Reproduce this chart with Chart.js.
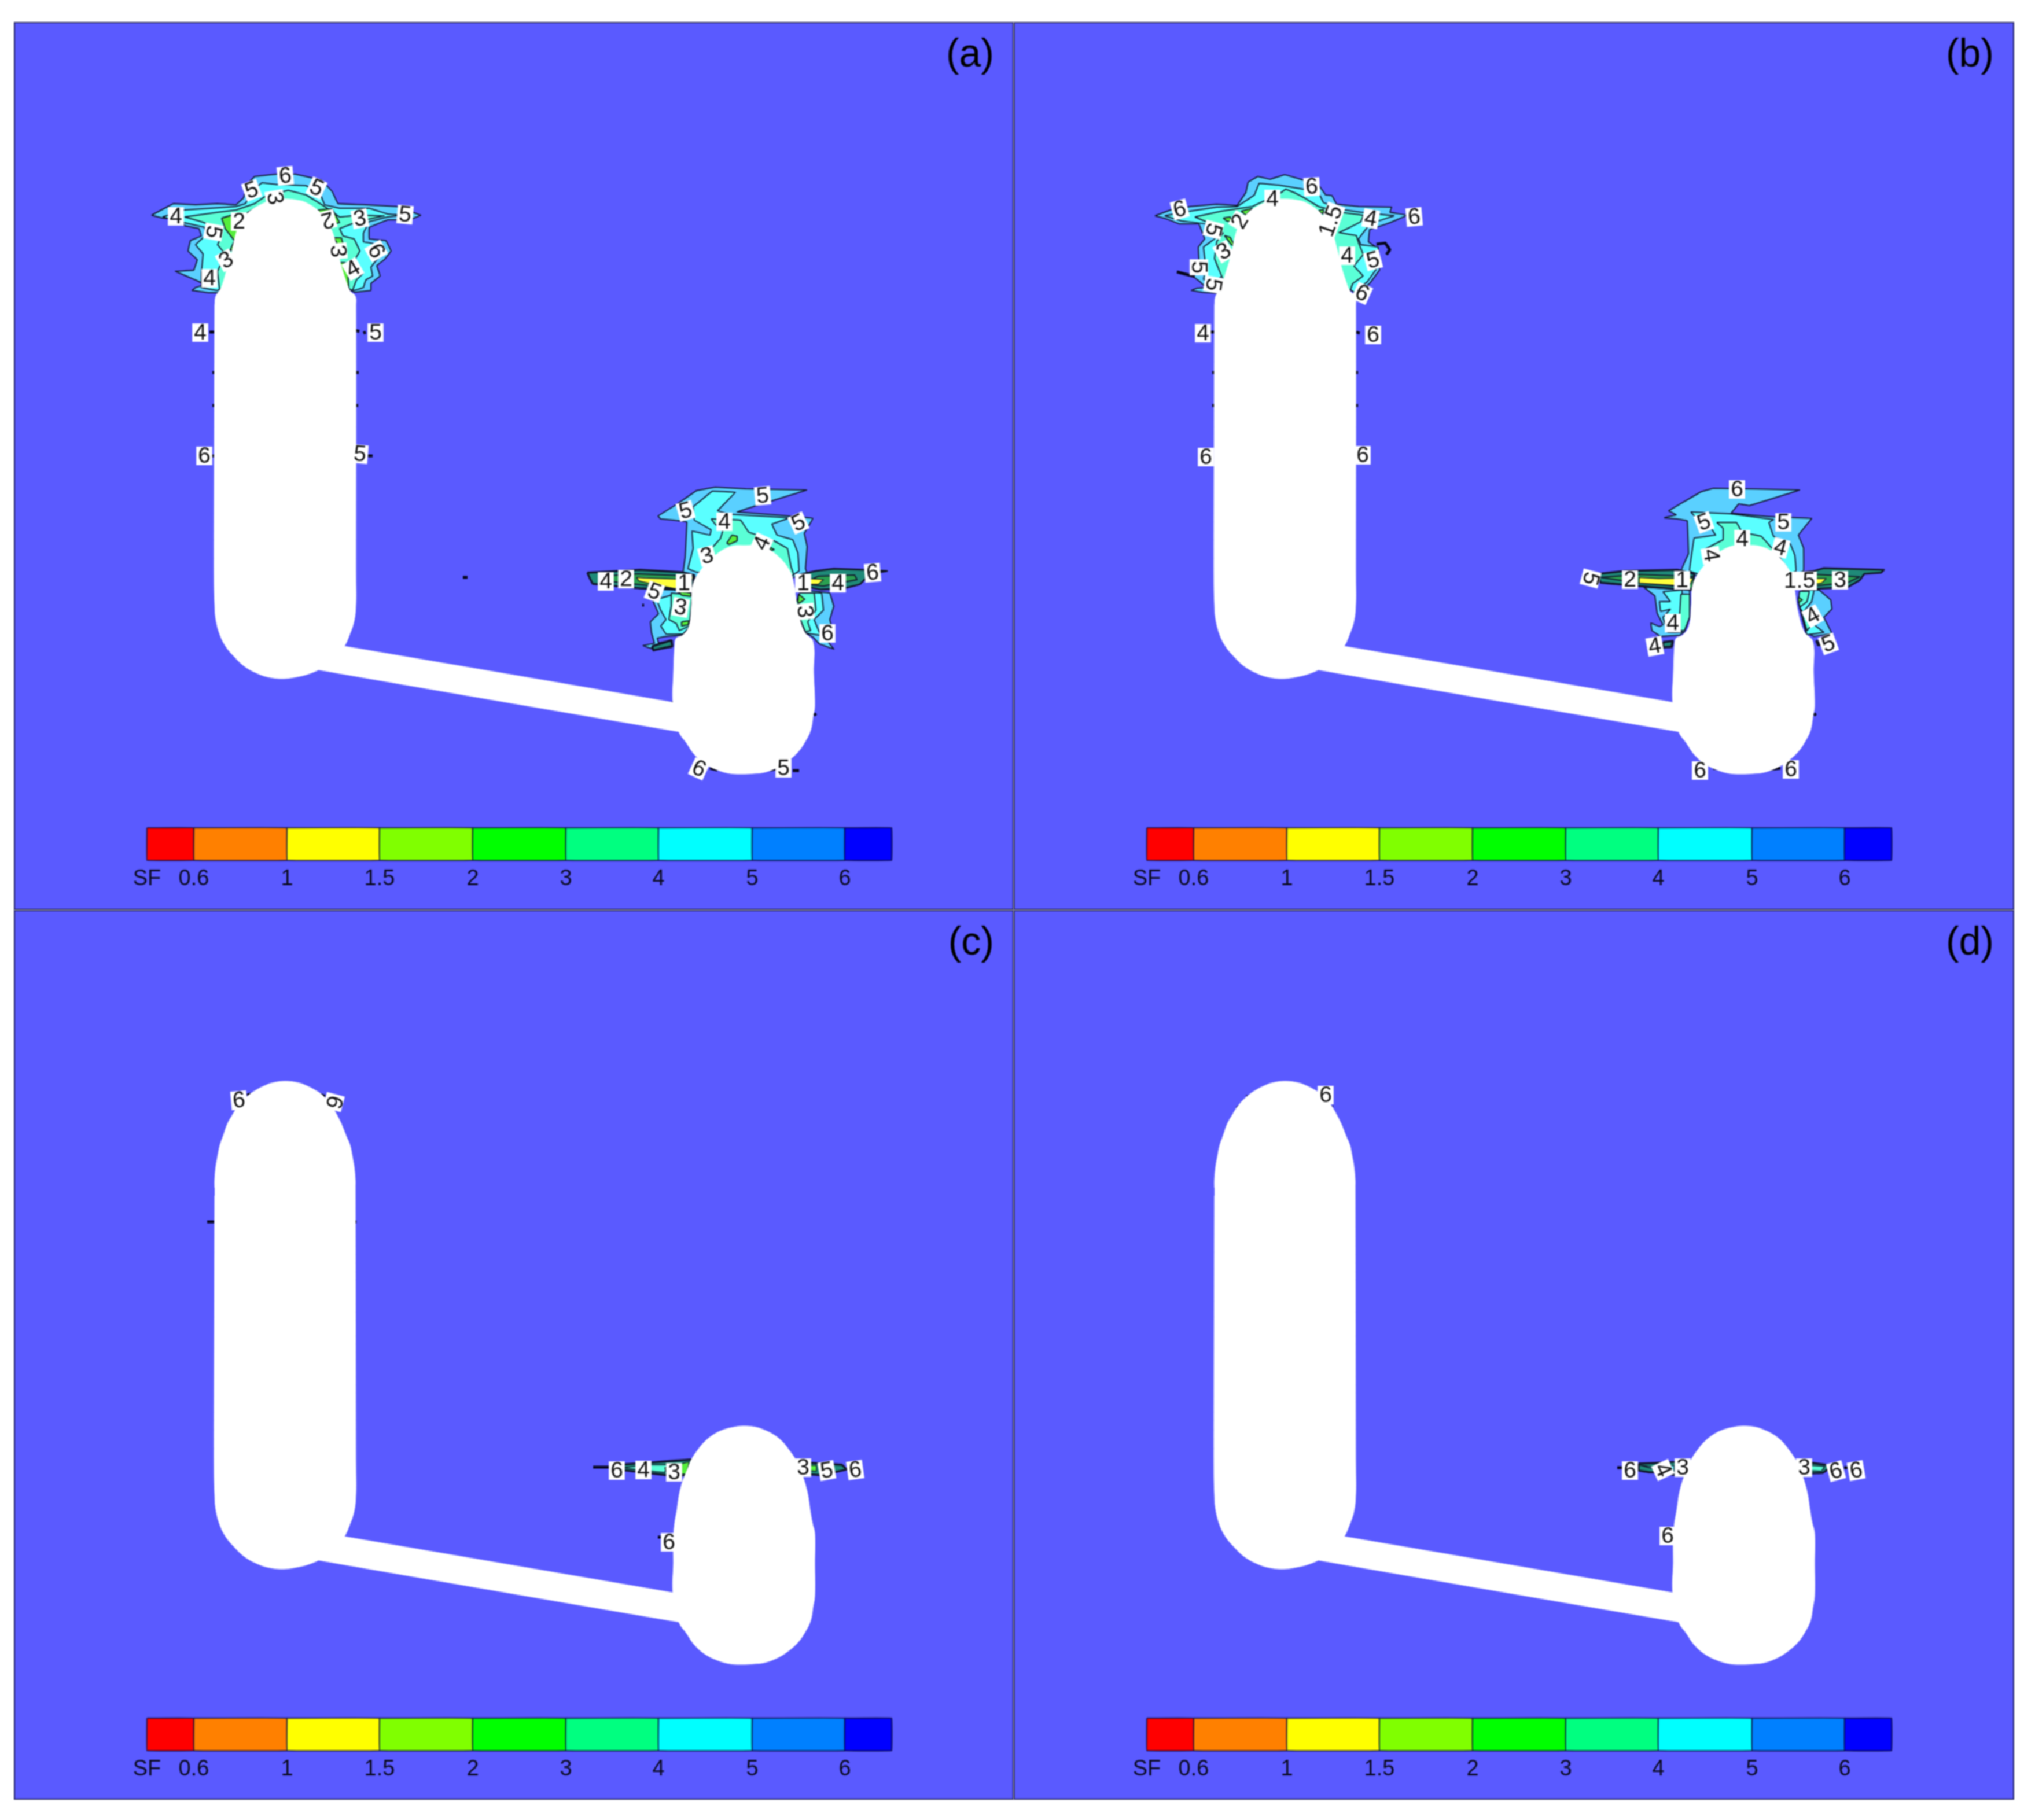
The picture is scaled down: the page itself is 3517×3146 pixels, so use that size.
<!DOCTYPE html>
<html>
<head>
<meta charset="utf-8">
<title>SF contours</title>
<script src="https://cdn.jsdelivr.net/npm/chart.js@4"></script>
<style>
  html, body { margin: 0; background: #fff; }
  body { position: relative; width: 3517px; height: 3146px; overflow: hidden; }
  canvas { position: absolute; background: #5a5aff; filter: blur(0.8px); }
  #panelA { left: 24px; top: 38px; }
  #panelB { left: 1752px; top: 38px; }
  #panelC { left: 24px; top: 1573px; }
  #panelD { left: 1752px; top: 1573px; }
</style>
</head>
<body>
<canvas id="panelA" width="1728" height="1535"></canvas>
<canvas id="panelB" width="1729" height="1535"></canvas>
<canvas id="panelC" width="1728" height="1538"></canvas>
<canvas id="panelD" width="1729" height="1538"></canvas>
<script>
// colour bar
const sfTicks = ['0.6', '1', '1.5', '2', '3', '4', '5', '6'];
const sfEdges = [230, 311, 472, 632, 793, 954, 1114, 1276, 1436, 1517];
const sfColors = ['#ff0000', '#ff8000', '#ffff00', '#80ff00', '#00ff00', '#00ff80', '#00ffff', '#0080ff', '#0000ff'];
const sfBarY = [1393, 1449];

// contour band fills
const SKY = '#5ad0ff', CYAN = '#5affff', MINT = '#5affd6', GREEN = '#55ee3c', YELLOW = '#ffff3c', TEAL = '#1f8a78', DEEP = '#2aa050';

// tanks and link pipe, read in panel units
const bigDomeUpper = [[347,490],[349,474],[358,460],[366,435],[375,405],[386,359],[397,340],[408,327],[428,315],[447,308],[468,306],[489,308],[504,312],[527,327],[540,345],[550,362],[558,390],[565,419],[573,445],[581,465],[590,474],[591,490]];
const bigDomeLower = [[347,476],[347,463],[349,440],[352,423],[356,403],[362,386],[369,366],[378,350],[389,333],[406,316],[421,306],[433,300],[446,295],[469,292],[493,295],[506,300],[518,306],[533,316],[548,333],[558,350],[566,366],[574,386],[581,403],[585,423],[588,440],[590,463],[590,476]];
const bigBase = [[591,962],[591,1005],[588,1035],[579,1062],[571,1079],[552,1103],[530,1118],[509,1127],[489,1132],[466,1135],[443,1133],[423,1127],[399,1114],[379,1095],[366,1079],[356,1059],[349,1032],[347,1005],[346,962],[347,490]];
const smallDomeUpper = [[1140,1125],[1142,1079],[1145,1065],[1156,1060],[1167,1044],[1171,1010],[1174,972],[1189,945],[1212,922],[1238,907],[1261,905],[1292,907],[1319,922],[1341,949],[1348,972],[1355,1018],[1366,1054],[1381,1071],[1382,1125]];
const smallDomeLower = [[1140,1125],[1140,1080],[1142,1056],[1146,1033],[1150,1006],[1156,983],[1164,963],[1171,946],[1183,928],[1194,915],[1209,903],[1225,895],[1244,890],[1261,888],[1282,890],[1297,895],[1313,903],[1328,915],[1340,930],[1351,946],[1359,963],[1366,983],[1372,1006],[1376,1033],[1380,1056],[1384,1073],[1384,1125]];
const smallBase = [[1384,1182],[1381,1201],[1377,1224],[1368,1243],[1355,1262],[1337,1278],[1319,1289],[1297,1297],[1279,1299],[1261,1300],[1238,1299],[1216,1293],[1194,1282],[1176,1266],[1163,1247],[1149,1226],[1139,1176],[1140,1125]];
const pipe = [[500,1067],[1200,1187],[1200,1235],[500,1115],[500,1067]];

// panel (a), big tank
const aTopSky = [[238,334],[266,319],[276,314],[314,316],[352,314],[384,316],[397,304],[403,281],[416,267],[454,263],[486,263],[531,273],[550,293],[560,314],[608,316],[662,319],[703,334],[684,342],[646,342],[614,355],[614,375],[643,378],[652,396],[640,411],[627,421],[633,439],[617,452],[617,464],[588,467],[470,400],[352,468],[336,468],[308,464],[314,459],[330,454],[314,446],[279,431],[311,429],[317,411],[301,396],[305,378],[324,370],[320,357],[295,352],[289,342],[257,339],[238,334]];
const aTopCyan = [[257,337],[295,325],[340,322],[384,319],[400,314],[416,288],[429,278],[454,281],[505,283],[531,301],[537,316],[563,322],[614,322],[646,332],[671,334],[646,337],[614,345],[604,365],[604,380],[633,385],[643,396],[627,411],[617,424],[620,439],[608,446],[604,459],[588,464],[470,400],[352,464],[324,459],[324,434],[327,401],[314,385],[330,370],[330,355],[295,347],[257,337]];
const aTopMint = [[295,337],[352,329],[384,325],[416,314],[435,301],[474,291],[505,299],[537,319],[563,337],[595,334],[640,335],[595,345],[563,357],[569,370],[588,375],[598,396],[588,413],[604,434],[592,446],[585,464],[470,400],[356,464],[352,431],[365,401],[352,385],[359,370],[352,355],[320,344],[295,337]];
const aTopGreen1 = [[359,339],[384,332],[397,355],[387,390],[373,396],[381,378],[365,357],[359,339]];
const aTopGreen2 = [[400,332],[416,322],[423,329],[407,337],[400,332]];
const aTopGreen3 = [[525,325],[550,323],[563,347],[547,350],[525,325]];
const aTopGreen4 = [[553,373],[566,373],[569,385],[560,385],[553,373]];
const aTopGreen5 = [[563,416],[576,416],[579,464],[569,446],[563,416]];

// panel (a), small tank
const aSmallSky = [[1113,854],[1145,834],[1180,810],[1212,804],[1265,807],[1370,809],[1283,836],[1250,847],[1328,853],[1381,858],[1366,884],[1371,907],[1368,945],[1372,956],[1261,972],[1156,956],[1160,926],[1163,864],[1140,861],[1118,859],[1113,854]];
const aSmallCyan = [[1174,838],[1207,811],[1247,813],[1216,845],[1238,851],[1341,857],[1310,868],[1319,887],[1346,895],[1355,918],[1357,949],[1346,956],[1261,956],[1180,951],[1165,945],[1174,910],[1172,880],[1203,887],[1205,878],[1176,861],[1174,838]];
const aSmallMint = [[1205,859],[1256,861],[1270,882],[1310,895],[1337,910],[1343,941],[1348,956],[1261,972],[1187,930],[1212,903],[1221,893],[1225,880],[1212,868],[1205,859]];
const aSmallGreen1 = [[1232,901],[1241,887],[1250,889],[1250,897],[1236,903],[1232,901]];
const aSmallGreen2 = [[1305,907],[1314,912],[1308,914],[1305,907]];
const aLeftBand = [[991,952],[1082,947],[1154,951],[1176,956],[1172,987],[1140,981],[1082,979],[1000,971],[991,952]];
const aLeftDeep = [[1015,958],[1078,954],[1149,957],[1172,960],[1169,984],[1140,980],[1096,974],[1020,966],[1015,958]];
const aLeftYellow = [[1076,960],[1091,961],[1149,963],[1174,958],[1167,981],[1140,979],[1100,971],[1080,966],[1076,960]];
const aRightBand = [[1386,949],[1417,945],[1471,947],[1509,949],[1480,954],[1462,972],[1435,979],[1395,981],[1363,975],[1355,956],[1386,949]];
const aRightDeep = [[1390,958],[1453,956],[1457,964],[1399,975],[1363,972],[1390,958]];
const aRightYellow = [[1372,962],[1399,964],[1390,972],[1372,972],[1372,962]];
const aLowLeftSky = [[1102,979],[1167,979],[1176,1044],[1154,1060],[1127,1062],[1112,1065],[1114,1073],[1138,1069],[1136,1081],[1105,1084],[1087,1078],[1107,1074],[1102,1056],[1100,1037],[1114,1023],[1105,1002],[1102,979]];
const aLowLeftCyan = [[1111,998],[1149,987],[1169,987],[1169,1044],[1156,1058],[1127,1058],[1118,1044],[1127,1033],[1118,1017],[1111,998]];
const aLowLeftMint = [[1136,987],[1172,991],[1167,1044],[1150,1052],[1145,1040],[1132,1033],[1136,1010],[1136,987]];
const aLowLeftGreen1 = [[1150,985],[1170,987],[1170,993],[1154,991],[1150,985]];
const aLowLeftGreen2 = [[1154,1037],[1167,1035],[1165,1042],[1154,1044],[1154,1037]];
const aLowLeftDark = [[1103,1079],[1136,1069],[1138,1079],[1105,1086],[1103,1079]];
const aLowRightSky = [[1374,983],[1410,987],[1417,1010],[1410,1033],[1417,1060],[1405,1069],[1417,1084],[1392,1075],[1381,1063],[1368,1056],[1350,1010],[1374,983]];
const aLowRightCyan = [[1368,987],[1396,987],[1399,1017],[1383,1033],[1394,1060],[1368,1056],[1350,1010],[1368,987]];
const aLowRightMint = [[1358,987],[1383,987],[1386,1017],[1372,1037],[1377,1052],[1368,1054],[1350,1010],[1358,987]];
const aLowRightGreen = [[1356,989],[1367,998],[1355,1006],[1356,989]];

const aMarks = [[[338,536],[346,536]],[[590,533],[597,535]],[[604,538],[608,536]],[[343,606],[347,606]],[[591,606],[596,606]],[[343,663],[347,663]],[[591,663],[595,663]],[[612,750],[620,750]],[[342,750],[347,750]],[[776,960],[784,960]],[[1203,1290],[1216,1293]],[[1306,1293],[1319,1291]],[[1346,1294],[1357,1294]],[[1383,1195],[1386,1199]],[[1137,1176],[1140,1177]],[[1086,1008],[1089,1008]]];
const aLabels = [[469,266,'6',-5],[411,291,'5',-20],[523,287,'5',25],[451,305,'3',80],[280,336,'4',0],[676,333,'5',5],[389,345,'2',0],[542,342,'2',165],[598,340,'3',-10],[345,363,'5',100],[560,396,'3',85],[626,396,'6',60],[367,412,'3',-30],[338,443,'4',0],[586,427,'4',-30],[322,537,'4',0],[625,537,'5',0],[329,750,'6',0],[598,747,'5',5],
  [1294,819,'5',-5],[1161,845,'5',-15],[1228,864,'4',0],[1356,866,'5',-25],[1293,901,'4',-65],[1198,923,'3',-15],[1158,970,'1',0],[1364,970,'1',0],[1023,967,'4',0],[1058,963,'2',0],[1107,985,'5',20],[1424,970,'4',0],[1484,952,'6',-5],[1152,1012,'3',10],[1367,1019,'3',85],[1406,1057,'6',0],[1184,1291,'6',25],[1330,1290,'5',0]];

// panel (b), big tank
const bTopSky = [[244,335],[271,325],[305,319],[351,315],[386,317],[401,295],[405,277],[422,267],[443,272],[468,264],[496,272],[527,282],[539,299],[550,300],[558,315],[596,319],[653,320],[650,329],[680,334],[650,347],[615,359],[613,380],[630,392],[632,429],[615,452],[592,469],[466,379],[351,469],[324,467],[307,464],[317,460],[332,459],[322,449],[309,439],[320,412],[319,389],[330,375],[320,349],[286,349],[263,340],[244,335]];
const bTopCyan = [[261,335],[305,327],[351,320],[386,319],[416,299],[424,279],[458,282],[500,289],[527,295],[535,312],[565,324],[600,329],[657,335],[627,345],[611,355],[596,375],[600,385],[630,389],[628,425],[611,449],[588,467],[466,379],[351,445],[328,445],[332,425],[328,389],[351,372],[332,349],[290,344],[261,335]];
const bTopMint = [[313,337],[359,327],[412,319],[462,295],[470,289],[485,295],[504,305],[527,319],[565,329],[604,334],[600,345],[577,357],[562,364],[592,369],[596,382],[604,402],[588,422],[604,439],[586,452],[581,465],[466,379],[362,445],[347,409],[351,379],[362,365],[332,345],[313,337]];
const bTopGreen1 = [[362,339],[374,337],[378,345],[368,344],[362,339]];
const bTopGreen2 = [[393,327],[412,322],[401,334],[393,327]];
const bTopGreen3 = [[364,369],[374,372],[382,387],[376,385],[364,369]];
const bTopGreen4 = [[525,327],[535,324],[535,332],[525,327]];

// panel (b), small tank
const bSmallSky = [[1124,857],[1145,852],[1132,845],[1188,812],[1209,806],[1358,809],[1271,836],[1253,833],[1240,849],[1305,855],[1379,858],[1356,887],[1365,909],[1365,949],[1259,979],[1153,949],[1166,919],[1164,862],[1147,859],[1124,857]];
const bSmallCyan = [[1170,847],[1238,850],[1313,860],[1305,865],[1313,889],[1342,902],[1350,922],[1352,949],[1259,979],[1168,949],[1176,892],[1213,887],[1205,875],[1184,862],[1170,847]];
const bSmallMint = [[1215,865],[1249,865],[1259,882],[1292,889],[1321,922],[1338,945],[1259,979],[1197,935],[1193,912],[1226,895],[1226,875],[1215,865]];
const bLeftBand = [[1010,954],[1056,949],[1147,947],[1176,954],[1172,982],[1143,980],[1081,975],[1014,969],[1010,954]];
const bLeftDeep = [[1014,960],[1081,955],[1176,959],[1172,979],[1143,975],[1081,970],[1014,960]];
const bLeftYellow = [[1081,960],[1114,962],[1174,961],[1168,974],[1143,974],[1081,970],[1081,960]];
const bRightBand = [[1383,949],[1400,944],[1504,947],[1499,952],[1470,954],[1462,965],[1441,977],[1383,980],[1346,969],[1342,954],[1383,949]];
const bRightDeep = [[1387,955],[1462,959],[1441,969],[1383,975],[1346,965],[1387,955]];
const bRightYellow = [[1383,962],[1404,962],[1396,970],[1383,972],[1383,962]];
const bLowLeftSky = [[1089,977],[1168,982],[1168,1029],[1159,1054],[1151,1060],[1118,1062],[1103,1052],[1101,1039],[1116,1045],[1122,1042],[1112,1022],[1108,992],[1089,977]];
const bLowLeftCyan = [[1122,985],[1155,982],[1155,1055],[1130,1055],[1122,1029],[1135,1015],[1118,1019],[1116,1002],[1135,1002],[1122,985]];
const bLowLeftMint = [[1153,989],[1168,989],[1168,1029],[1159,1052],[1143,1052],[1151,1022],[1153,989]];
const bLowLeftDark = [[1122,1072],[1139,1070],[1137,1080],[1122,1081],[1122,1072]];
const bLowRightSky = [[1363,982],[1392,982],[1412,999],[1414,1015],[1400,1029],[1414,1057],[1383,1062],[1369,1055],[1356,1002],[1363,982]];
const bLowRightCyan = [[1363,982],[1383,982],[1379,1002],[1363,1022],[1387,1045],[1400,1055],[1371,1059],[1356,1002],[1363,982]];
const bLowRightMint = [[1358,984],[1375,984],[1371,1002],[1358,1012],[1379,1042],[1371,1052],[1356,1002],[1358,984]];
const bLowRightGreen = [[1356,994],[1363,999],[1356,1004],[1356,994]];
const bLowRightDark = [[1387,1069],[1396,1077],[1390,1077],[1387,1069]];

const bMarks = [[[340,536],[346,536]],[[592,536],[598,538]],[[343,606],[347,606]],[[591,606],[595,606]],[[343,663],[347,663]],[[591,663],[595,663]],[[282,432],[313,440]],[[627,384],[642,382],[650,394],[644,402]],[[1209,1290],[1232,1293]],[[1298,1293],[1325,1290]],[[1383,1195],[1386,1199]]];
const bLabels = [[287,324,'6',-15],[447,306,'4',0],[515,285,'6',-3],[548,344,'1.5',-70],[617,340,'4',10],[692,337,'6',-5],[345,359,'5',105],[391,345,'2',-60],[363,397,'3',-30],[320,424,'5',90],[345,454,'5',100],[576,404,'4',0],[621,412,'5',-15],[602,469,'6',25],[327,538,'4',0],[621,541,'6',0],[332,752,'6',0],[603,749,'6',0],
  [1250,808,'6',0],[1193,865,'5',-20],[1330,865,'5',0],[1259,894,'4',0],[1325,909,'4',15],[1205,922,'4',80],[997,962,'5',105],[1065,964,'2',0],[1155,965,'1',0],[1358,966,'1.5',0],[1428,965,'3',0],[1139,1039,'4',0],[1381,1027,'4',-30],[1108,1079,'4',-10],[1408,1075,'5',-20],[1186,1294,'6',0],[1343,1292,'6',0]];

// panel (c)
const cLeftBand = [[1030,956],[1102,951],[1171,946],[1163,973],[1129,973],[1102,970],[1060,965],[1030,963],[1030,956]];
const cLeftMint = [[1052,960],[1102,955],[1129,955],[1125,968],[1102,966],[1052,960]];
const cLeftGreen = [[1125,960],[1167,950],[1162,971],[1129,970],[1125,960]];
const cRightBand = [[1366,951],[1431,955],[1439,963],[1397,973],[1370,971],[1366,951]];
const cRightGreen = [[1370,956],[1387,956],[1387,966],[1370,965],[1370,956]];
const cMarks = [[[334,535],[346,535]],[[590,535],[592,535]],[[403,316],[409,314]],[[529,315],[538,318]],[[1001,959],[1030,959]],[[1113,1080],[1121,1080]]];
const cLabels = [[389,325,'6',-5],[553,328,'6',105],[1042,965,'6',0],[1088,964,'4',0],[1141,968,'3',0],[1364,960,'3',0],[1405,965,'5',-10],[1454,964,'6',-8],[1132,1089,'6',0]];

// panel (d)
const dLeftBand = [[1080,953],[1108,952],[1145,950],[1145,973],[1111,968],[1098,968],[1080,965],[1080,953]];
const dLeftCyan = [[1080,955],[1111,960],[1141,956],[1141,971],[1098,960],[1080,955]];
const dRightBand = [[1375,951],[1403,955],[1411,960],[1398,969],[1375,970],[1375,951]];
const dRightMint = [[1376,956],[1401,958],[1396,966],[1376,965],[1376,956]];
const dMarks = [[[386,335],[387,336]],[[403,318],[404,317]],[[550,335],[551,336]],[[1043,960],[1053,960]],[[1435,960],[1441,960]]];
const dLabels = [[539,316,'6',0],[1065,965,'6',0],[1122,964,'4',65],[1156,960,'3',0],[1366,960,'3',0],[1421,966,'6',-15],[1456,965,'6',-10],[1130,1078,'6',0]];

const toXY = pts => pts.map(p => ({ x: p[0], y: p[1] }));

// labels on top of the datasets: white tags, colour bar ticks, panel letter, frame
const textPlugin = {
  id: 'panelText',
  afterDatasetsDraw(chart, args, opts) {
    const { ctx, scales, width, height } = chart;
    const px = v => scales.x.getPixelForValue(v);
    const py = v => scales.y.getPixelForValue(v);
    ctx.save();
    ctx.textAlign = 'center';
    ctx.textBaseline = 'middle';
    ctx.font = '39px "Liberation Sans"';
    opts.labels.forEach(([x, y, txt, rot]) => {
      const w = ctx.measureText(txt).width + 6;
      ctx.save();
      ctx.translate(px(x), py(y));
      ctx.rotate(rot * Math.PI / 180);
      ctx.fillStyle = '#fff';
      ctx.fillRect(-w / 2, -16, w, 32);
      ctx.fillStyle = '#111';
      ctx.fillText(txt, 0, 1);
      ctx.restore();
    });
    ctx.font = '38px "Liberation Sans"';
    ctx.fillStyle = '#0a0a20';
    ctx.fillText('SF', px(sfEdges[0]), py(1482));
    sfTicks.forEach((t, i) => ctx.fillText(t, px(sfEdges[i + 1]), py(1482)));
    ctx.font = '68px "Liberation Sans"';
    ctx.textAlign = 'right';
    ctx.textBaseline = 'alphabetic';
    ctx.fillStyle = '#000';
    ctx.fillText(opts.letter, px(1694), py(opts.letterY));
    ctx.strokeStyle = '#2a2a62';
    ctx.lineWidth = 4;
    ctx.strokeRect(0, 0, width, height);
    ctx.restore();
  }
};

function drawPanel(canvasId, yMin, yMax, letter, letterY, layers, tanks, marks, labels) {
  const datasets = [];
  const add = ds => {
    ds.pointRadius = 0;
    ds.showLine = true;
    ds.tension = ds.tension || 0.02;
    ds.order = 1000 - datasets.length; // later entries paint on top
    datasets.push(ds);
  };

  layers.forEach(([pts, color, width]) => add({
    data: toXY(pts), fill: 'shape', backgroundColor: color,
    borderColor: '#10142a', borderWidth: width || 2
  }));
  marks.forEach(pts => add({ data: toXY(pts), fill: false, borderColor: '#05051a', borderWidth: 5 }));
  tanks.forEach(pts => add({
    data: toXY(pts), fill: 'shape', backgroundColor: '#fff',
    borderColor: '#fff', borderWidth: 1, tension: 0.4
  }));
  add({ data: toXY(pipe), fill: 'shape', backgroundColor: '#fff', borderColor: '#fff', borderWidth: 1 });

  sfColors.forEach((c, i) => {
    const rect = [[sfEdges[i], sfBarY[0]], [sfEdges[i + 1], sfBarY[0]], [sfEdges[i + 1], sfBarY[1]], [sfEdges[i], sfBarY[1]], [sfEdges[i], sfBarY[0]]];
    add({ data: toXY(rect), fill: 'shape', backgroundColor: c, borderColor: 'rgba(10,10,60,0.7)', borderWidth: 2.5 });
  });

  const canvas = document.getElementById(canvasId);
  new Chart(canvas, {
    type: 'scatter',
    data: { datasets },
    plugins: [textPlugin],
    options: {
      responsive: false,
      animation: false,
      devicePixelRatio: 1,
      layout: { padding: 0 },
      scales: {
        x: { type: 'linear', display: false, min: 0, max: canvas.width },
        y: { type: 'linear', display: false, min: yMin, max: yMax, reverse: true }
      },
      plugins: {
        legend: { display: false },
        tooltip: { enabled: false },
        filler: { drawTime: 'beforeDatasetDraw' },
        panelText: { labels, letter, letterY }
      }
    }
  });
}

const upperTanks = [bigDomeUpper.concat(bigBase), smallDomeUpper.concat(smallBase)];
const lowerTanks = [bigDomeLower.concat(bigBase), smallDomeLower.concat(smallBase)];

drawPanel('panelA', 0, 1535, '(a)', 77, [
  [aTopSky, SKY], [aTopCyan, CYAN], [aTopMint, MINT], [aTopGreen1, GREEN], [aTopGreen2, GREEN], [aTopGreen3, GREEN], [aTopGreen4, GREEN], [aTopGreen5, GREEN],
  [aSmallSky, SKY], [aSmallCyan, CYAN], [aSmallMint, MINT], [aSmallGreen1, GREEN], [aSmallGreen2, GREEN],
  [aLowLeftSky, SKY], [aLowLeftCyan, CYAN], [aLowLeftMint, MINT], [aLowLeftGreen1, GREEN], [aLowLeftGreen2, GREEN], [aLowLeftDark, TEAL, 4],
  [aLowRightSky, SKY], [aLowRightCyan, CYAN], [aLowRightMint, MINT], [aLowRightGreen, GREEN],
  [aLeftBand, TEAL, 3.5], [aLeftDeep, DEEP], [aLeftYellow, YELLOW, 1.5],
  [aRightBand, TEAL, 3], [aRightDeep, DEEP], [aRightYellow, YELLOW, 1.5]
], upperTanks, aMarks, aLabels);

drawPanel('panelB', 0, 1535, '(b)', 77, [
  [bTopSky, SKY], [bTopCyan, CYAN], [bTopMint, MINT], [bTopGreen1, GREEN], [bTopGreen2, GREEN], [bTopGreen3, GREEN], [bTopGreen4, GREEN],
  [bSmallSky, SKY], [bSmallCyan, CYAN], [bSmallMint, MINT],
  [bLowLeftSky, SKY], [bLowLeftCyan, CYAN], [bLowLeftMint, MINT], [bLowLeftDark, TEAL, 4],
  [bLowRightSky, SKY], [bLowRightCyan, CYAN], [bLowRightMint, MINT], [bLowRightGreen, GREEN], [bLowRightDark, TEAL, 4],
  [bLeftBand, TEAL, 3.5], [bLeftDeep, DEEP], [bLeftYellow, YELLOW, 1.5],
  [bRightBand, TEAL, 3], [bRightDeep, DEEP], [bRightYellow, YELLOW, 1.5]
], upperTanks, bMarks, bLabels);

// lower row sits about 4 units lower in its frame
drawPanel('panelC', -4, 1534, '(c)', 73, [
  [cLeftBand, TEAL, 3.5], [cLeftMint, MINT, 1.5], [cLeftGreen, GREEN, 1.5],
  [cRightBand, TEAL, 3.5], [cRightGreen, GREEN, 1.5]
], lowerTanks, cMarks, cLabels);

drawPanel('panelD', -4, 1534, '(d)', 73, [
  [dLeftBand, TEAL, 3.5], [dLeftCyan, CYAN, 1.5],
  [dRightBand, TEAL, 3.5], [dRightMint, MINT, 1.5]
], lowerTanks, dMarks, dLabels);
</script>
</body>
</html>
